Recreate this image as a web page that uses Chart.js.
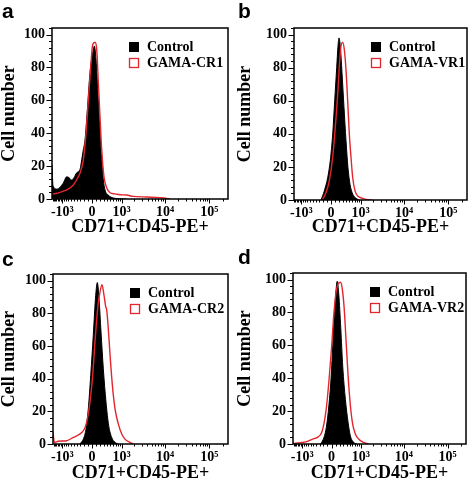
<!DOCTYPE html>
<html><head><meta charset="utf-8">
<script src="https://cdn.jsdelivr.net/npm/chart.js@4.4.1/dist/chart.umd.min.js"></script>
<style>
html,body{margin:0;padding:0;background:#fff;width:472px;height:485px;overflow:hidden}
.p{position:absolute}
canvas{display:block}
</style></head><body>
<div class="p" style="left:0;top:0"><canvas id="ca" width="236" height="242"></canvas></div>
<div class="p" style="left:236px;top:0"><canvas id="cb" width="236" height="242"></canvas></div>
<div class="p" style="left:0;top:242px"><canvas id="cc" width="236" height="243"></canvas></div>
<div class="p" style="left:236px;top:242px"><canvas id="cd" width="236" height="243"></canvas></div>
<script>
// ---------- data ----------
const panelLetters = ['a', 'b', 'c', 'd'];
const controlLabel = 'Control';
const sampleLabels = ['GAMA-CR1', 'GAMA-VR1', 'GAMA-CR2', 'GAMA-VR2'];
const xTitle = 'CD71+CD45-PE+';
const yTitle = 'Cell number';
const xTickValues = [-1000, 0, 1000, 10000, 100000];
const xTickLabels = ['-10³', '0', '10³', '10⁴', '10⁵'];
const yTickValues = [0, 20, 40, 60, 80, 100];
const xMins = [-1770, -1503, -1675, -1675];
const xMax = 262144;
const yMax = 104;

// panel a
const ctrlA_x = [-1770, -1675, -1350, -963, -778, -675, -570, -486, -396, -299, -252, -210, -167, -111, -47, 16, 54, 94, 150, 192, 236, 280, 327, 427, 606, 909, 1300];
const ctrlA_y = [21, 8, 6, 9.5, 13.5, 13, 11.5, 13, 16, 18, 24, 30, 36, 54, 77, 89, 93, 85, 60, 40, 24, 11.6, 5.5, 2.4, 0.6, 0.2, 0];
const sampA_x = [-1770, -1350, -778, -509, -387, -299, -210, -143, -87, -30, 16, 70, 111, 150, 192, 236, 299, 378, 486, 675, 909, 1324, 1868, 3840, 7700, 10900, 12900];
const sampA_y = [3, 3.5, 5.5, 8.5, 12, 15.8, 23.8, 40, 60, 80.7, 94, 95.3, 91, 70.7, 50, 30, 13.4, 6.7, 3.8, 3.1, 2.6, 2.4, 1.6, 1.2, 0.8, 0.4, 0];
// panel b
const ctrlB_x = [-244, -160, -77, -16, 40, 87, 135, 167, 192, 226, 271, 327, 387, 450, 520, 621, 765, 927];
const ctrlB_y = [0, 5.5, 13.6, 24, 40, 60, 80, 93, 98, 93, 77, 56, 36, 19.5, 9.5, 3.6, 1, 0];
const sampB_x = [-200, -118, -40, 40, 101, 160, 200, 244, 290, 336, 387, 440, 495, 555, 621, 720, 846, 1120, 1480, 1900];
const sampB_y = [0.5, 4.5, 11.6, 26, 44, 64, 80.7, 93, 95.3, 91, 78.7, 60, 40, 26, 13.6, 5.5, 2.4, 1, 0.2, 0];
// panel c
const ctrlC_x = [-299, -210, -143, -87, -30, 30, 87, 126, 167, 218, 280, 357, 440, 545, 675, 824];
const ctrlC_y = [0, 3, 9, 21.5, 42, 66.6, 91, 98.8, 89, 68.6, 46, 25.6, 11.3, 4, 1, 0];
const sampC_x = [-1675, -1560, -1256, -778, -570, -396, -252, -167, -111, -47, 16, 70, 135, 192, 244, 299, 348, 378, 427, 486, 570, 675, 824, 1005, 1205, 1590, 1886];
const sampC_y = [7.5, 1, 1.7, 2, 3.5, 5, 7, 10, 15, 25.6, 42, 62.5, 83, 93, 97.4, 91, 84, 82, 70.7, 54.5, 35.9, 21.5, 12.3, 6.1, 3, 1, 0];
// panel d
const ctrlD_x = [-271, -185, -126, -63, -7, 40, 94, 135, 175, 226, 280, 357, 440, 520, 648, 797];
const ctrlD_y = [0, 4, 10, 23.6, 42, 66.6, 89, 99, 91, 70.7, 47, 27, 13.3, 5, 1, 0];
const sampD_x = [-1675, -1563, -977, -733, -529, -365, -244, -185, -126, -63, 0, 54, 111, 160, 218, 263, 319, 378, 440, 520, 606, 720, 878, 1160, 1525];
const sampD_y = [0.3, 0.4, 1, 1.6, 3, 4, 7, 12.3, 21.5, 38, 58.5, 79, 93, 97.4, 98.4, 95, 83, 62.5, 42, 23.6, 12.3, 6.1, 3, 1, 0];

// ---------- layout (per panel) ----------
const layouts = [
  {pad: {left: 0, top: 28, right: 8, bottom: 0}, yW: 52, xH: 43, letterY: 18, titlePad: 6},
  {pad: {left: 0, top: 28, right: 5, bottom: 0}, yW: 58, xH: 42, letterY: 18, titlePad: 6},
  {pad: {left: 0, top: 32, right: 8, bottom: 0}, yW: 53, xH: 41, letterY: 24, titlePad: 3},
  {pad: {left: 0, top: 31, right: 6, bottom: 0}, yW: 57, xH: 41, letterY: 22, titlePad: 3}
];

// ---------- biexponential (arcsinh) axis ----------
const C = 450;
const T = v => Math.asinh(v / C);
class BiexScale extends Chart.LinearScale {
  buildTicks() { return xTickValues.map(v => ({value: v})); }
  getPixelForValue(value) {
    const a = T(this.min), b = T(this.max);
    return this.getPixelForDecimal((T(value) - a) / (b - a));
  }
  getValueForPixel(pixel) {
    const a = T(this.min), b = T(this.max);
    return C * Math.sinh(a + this.getDecimalForPixel(pixel) * (b - a));
  }
}
BiexScale.id = 'biex';
BiexScale.defaults = {};
Chart.register(BiexScale);

const xMinor = [];
for (let v = -1800; v <= 900; v += 100) if (v !== -1000 && v !== 0) xMinor.push(v);
[2,3,4,5,6,7,8,9].forEach(m => { xMinor.push(m * 1000); xMinor.push(m * 10000); });
xMinor.push(200000);
const yMinor = [];
for (let v = 0; v <= 104; v += 4) if (v % 20 !== 0) yMinor.push(v);

const SERIF = '"Liberation Serif", "Times New Roman", serif';
const RED = '#e3262e';

const decor = {
  id: 'decor',
  afterDraw(chart, args, o) {
    const ctx = chart.ctx, ca = chart.chartArea, xs = chart.scales.x, ys = chart.scales.y;
    ctx.save();
    ctx.strokeStyle = '#000';
    ctx.lineWidth = 1;
    ctx.beginPath();
    xMinor.forEach(v => {
      if (v < xs.min || v > xs.max) return;
      const p = Math.round(xs.getPixelForValue(v)) + 0.5;
      ctx.moveTo(p, ca.bottom); ctx.lineTo(p, ca.bottom + 2.5);
    });
    xTickValues.forEach(v => {
      const p = Math.round(xs.getPixelForValue(v)) + 0.5;
      ctx.moveTo(p, ca.bottom); ctx.lineTo(p, ca.bottom + 4.5);
    });
    yMinor.forEach(v => {
      const p = Math.round(ys.getPixelForValue(v)) + 0.5;
      ctx.moveTo(ca.left, p); ctx.lineTo(ca.left - 3, p);
    });
    yTickValues.forEach(v => {
      const p = Math.round(ys.getPixelForValue(v)) + 0.5;
      ctx.moveTo(ca.left, p); ctx.lineTo(ca.left - 5.5, p);
    });
    ctx.stroke();
    ctx.lineWidth = 1.5;
    ctx.strokeRect(ca.left, ca.top, ca.right - ca.left, ca.bottom - ca.top);
    // legend
    const ds = chart.data.datasets;
    const lx = ca.left + 77, ly = ca.top + 14;
    ctx.fillStyle = '#000';
    ctx.fillRect(lx, ly, 10, 10);
    ctx.fillStyle = '#fff';
    ctx.fillRect(lx, ly + 16, 10, 10);
    ctx.strokeStyle = RED; ctx.lineWidth = 1.3;
    ctx.strokeRect(lx + 0.5, ly + 16.5, 9, 9);
    ctx.fillStyle = '#000';
    ctx.font = 'bold 14px ' + SERIF;
    ctx.textBaseline = 'middle'; ctx.textAlign = 'left';
    ctx.fillText(ds[1].label, lx + 18, ly + 5.5);
    ctx.fillText(ds[0].label, lx + 18, ly + 21.5);
    // panel letter
    ctx.font = 'bold 21px "Liberation Sans", Arial, sans-serif';
    ctx.textBaseline = 'alphabetic';
    ctx.fillText(o.letter, 2, o.letterY);
    ctx.restore();
  }
};

const pts = (xs, ys) => xs.map((x, i) => ({x, y: ys[i]}));
const panels = [
  [ctrlA_x, ctrlA_y, sampA_x, sampA_y],
  [ctrlB_x, ctrlB_y, sampB_x, sampB_y],
  [ctrlC_x, ctrlC_y, sampC_x, sampC_y],
  [ctrlD_x, ctrlD_y, sampD_x, sampD_y]
];
const ids = ['ca', 'cb', 'cc', 'cd'];

panels.forEach((p, i) => {
  const L = layouts[i];
  new Chart(document.getElementById(ids[i]), {
    type: 'line',
    data: {
      datasets: [
        {label: sampleLabels[i], data: pts(p[2], p[3]), borderColor: RED, borderWidth: 1.4,
         fill: false, pointRadius: 0, cubicInterpolationMode: 'monotone', order: 0},
        {label: controlLabel, data: pts(p[0], p[1]), borderColor: '#000', backgroundColor: '#000',
         borderWidth: 1, fill: 'origin', pointRadius: 0, cubicInterpolationMode: 'monotone', order: 1}
      ]
    },
    options: {
      responsive: false, animation: false, devicePixelRatio: 1,
      layout: {padding: L.pad},
      plugins: {legend: {display: false}, tooltip: {enabled: false},
                decor: {letter: panelLetters[i], letterY: L.letterY}},
      scales: {
        x: {
          type: 'biex', min: xMins[i], max: xMax,
          grid: {display: false, drawTicks: false}, border: {display: false},
          ticks: {autoSkip: false, maxRotation: 0, padding: 4.5, color: '#000',
                  font: {family: SERIF, size: 14, weight: 'bold'},
                  callback: v => { const k = xTickValues.indexOf(v); return k >= 0 ? xTickLabels[k] : ''; }},
          title: {display: true, text: xTitle, color: '#000', padding: {top: 0, bottom: L.titlePad},
                  font: {family: SERIF, size: 18, weight: 'bold', lineHeight: 1}},
          afterFit: s => { s.height = L.xH; }
        },
        y: {
          type: 'linear', min: 0, max: yMax,
          afterBuildTicks: s => { s.ticks = yTickValues.map(v => ({value: v})); },
          grid: {display: false, drawTicks: false}, border: {display: false},
          ticks: {padding: 7, color: '#000', font: {family: SERIF, size: 14, weight: 'bold'}},
          title: {display: true, text: yTitle, color: '#000', padding: {top: 0, bottom: 0},
                  font: {family: SERIF, size: 18, weight: 'bold', lineHeight: 1}},
          afterFit: s => { s.width = L.yW; }
        }
      }
    },
    plugins: [decor]
  });
});
</script>
</body></html>
